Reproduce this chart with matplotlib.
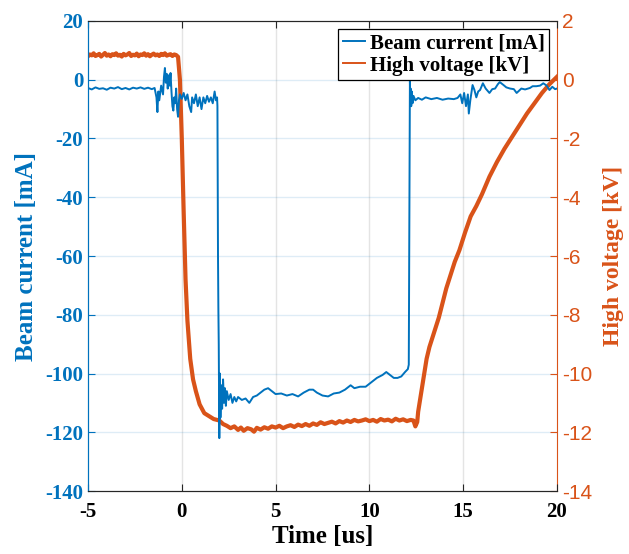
import matplotlib.pyplot as plt
from matplotlib.lines import Line2D
from matplotlib.ticker import FixedFormatter

plt.rcParams["axes.unicode_minus"] = False

# beam current trace (time in us, current in mA)
beam_t = [-5.0, -4.8, -4.6, -4.4, -4.2, -4.0, -3.8, -3.6, -3.4, -3.2, -3.0, -2.8,
          -2.6, -2.4, -2.2, -2.0, -1.8, -1.6, -1.45, -1.35, -1.3, -1.25, -1.2, -1.1,
          -1.0, -0.95, -0.9, -0.85, -0.8, -0.75, -0.7, -0.65, -0.6, -0.55, -0.5, -0.45,
          -0.4, -0.35, -0.3, -0.25, -0.2, -0.15, -0.1, 0.0, 0.1, 0.2, 0.3, 0.4, 0.5,
          0.55, 0.65, 0.75, 0.85, 0.95, 1.05, 1.15, 1.25, 1.35, 1.45, 1.55, 1.65, 1.75,
          1.82, 1.88, 1.9, 1.93, 1.95, 1.97, 2.0, 2.03, 2.06, 2.1, 2.15, 2.2, 2.25, 2.3,
          2.35, 2.4, 2.5, 2.6, 2.7, 2.8, 2.9, 3.0, 3.2, 3.4, 3.6, 3.8, 4.0, 4.2, 4.4,
          4.6, 4.8, 5.0, 5.3, 5.6, 5.9, 6.2, 6.5, 6.8, 7.0, 7.2, 7.5, 7.8, 8.1, 8.4,
          8.7, 9.0, 9.2, 9.5, 9.8, 10.1, 10.4, 10.7, 10.9, 11.1, 11.3, 11.5, 11.7, 11.9,
          12.05, 12.1, 12.13, 12.16, 12.18, 12.2, 12.23, 12.26, 12.3, 12.35, 12.45, 12.6,
          12.8, 13.0, 13.3, 13.6, 13.9, 14.2, 14.5, 14.7, 14.85, 14.95, 15.05, 15.15,
          15.25, 15.3, 15.38, 15.5, 15.6, 15.7, 15.8, 15.9, 16.05, 16.2, 16.4, 16.55,
          16.7, 16.85, 16.95, 17.15, 17.3, 17.5, 17.7, 17.85, 18.1, 18.3, 18.56, 18.7,
          18.9, 19.1, 19.27, 19.45, 19.6, 19.75, 19.9, 20.0]
beam_ma = [-2.8, -3.3, -2.6, -3.1, -2.9, -3.4, -2.7, -3.0, -2.5, -3.2, -2.8, -3.3,
           -2.7, -3.0, -2.6, -3.1, -2.7, -3.2, -2.8, -6.0, -11.0, -4.0, -7.0, -2.0,
           -5.0, 1.0, 4.0, -1.0, 2.0, -3.0, 1.5, -2.0, 2.3, -4.0, -9.0, -10.5,
           -6.0, -8.0, -3.0, -10.0, -12.6, -7.0, -5.0, -6.5, -4.5, -7.0, -5.0, -9.0, -11.0,
           -6.0, -8.0, -5.0, -9.0, -6.0, -10.0, -6.0, -8.0, -5.5, -7.5, -6.0, -8.0, -4.0,
           -7.0, -6.0, -9.0, -60.0, -78.0, -90.0, -122.0, -100.0, -115.0, -104.0, -112.0, -102.0, -110.0, -105.0,
           -111.0, -106.0, -109.0, -107.0, -110.0, -108.0, -109.5, -108.0, -109.0, -108.5, -110.0, -108.0, -107.5, -106.5, -105.5,
           -105.0, -106.0, -107.0, -106.8, -107.5, -107.0, -107.8, -106.5, -105.5, -105.5, -106.5, -107.5, -107.8, -106.8, -106.5,
           -105.5, -104.0, -105.0, -104.5, -104.5, -103.0, -101.5, -100.5, -99.5, -100.5, -101.5, -101.5, -101.0, -99.5,
           -98.5, -97.0, -50.0, -0.5, -8.0, -3.0, -9.0, -4.0, -8.0, -5.5, -7.0, -6.2,
           -6.8, -6.0, -6.6, -6.2, -6.8, -6.4, -6.6, -6.2, -5.0, -8.0, -4.5, -9.0,
           -5.0, -11.5, -7.0, -1.8, -3.5, -6.0, -4.0, -3.5, -1.2, -3.0, -4.5, -3.2,
           -3.0, -1.5, -0.8, -1.8, -2.6, -3.0, -3.2, -4.5, -3.0, -3.3, -2.8, -2.2,
           -2.2, -2.0, -1.2, -2.0, -3.5, -2.4, -3.2, -3.0]

# high voltage trace (time in us, voltage in kV)
hv_t = [-5.0, -4.9, -4.8, -4.7, -4.6, -4.5, -4.4, -4.3, -4.2, -4.1, -4.0, -3.9,
        -3.8, -3.7, -3.6, -3.5, -3.4, -3.3, -3.2, -3.1, -3.0, -2.9, -2.8, -2.7,
        -2.6, -2.5, -2.4, -2.3, -2.2, -2.1, -2.0, -1.9, -1.8, -1.7, -1.6, -1.5,
        -1.4, -1.3, -1.2, -1.1, -1.0, -0.9, -0.8, -0.7, -0.6, -0.5, -0.4, -0.3,
        -0.2, -0.1, 0.0, 0.1, 0.2, 0.3, 0.45, 0.6, 0.75, 0.95, 1.2, 1.45,
        1.7, 2.0, 2.2, 2.4, 2.6, 2.8, 3.0, 3.15, 3.3, 3.5, 3.7, 3.85, 4.0, 4.2,
        4.4, 4.6, 4.8, 5.0, 5.2, 5.4, 5.6, 5.8, 6.0, 6.2, 6.4, 6.6, 6.8, 7.0,
        7.2, 7.4, 7.6, 7.8, 8.0, 8.2, 8.4, 8.6, 8.8, 9.0, 9.2, 9.4, 9.6, 9.8,
        10.0, 10.2, 10.4, 10.6, 10.8, 11.0, 11.2, 11.4, 11.6, 11.8, 12.0, 12.2,
        12.35, 12.45, 12.55, 12.6, 12.75, 12.9, 13.05, 13.2, 13.35, 13.5, 13.7,
        13.9, 14.1, 14.3, 14.55, 14.8, 15.1, 15.4, 15.7, 16.0, 16.4, 16.8, 17.2,
        17.6, 18.0, 18.4, 18.8, 19.2, 19.6, 20.0]
hv_kv = [0.80, 0.86, 0.83, 0.9, 0.81, 0.84, 0.88, 0.79, 0.85, 0.91, 0.82, 0.86,
         0.8, 0.87, 0.84, 0.9, 0.82, 0.85, 0.79, 0.88, 0.83, 0.86, 0.91, 0.81,
         0.85, 0.83, 0.89, 0.8, 0.86, 0.84, 0.9, 0.82, 0.87, 0.8, 0.85, 0.89,
         0.83, 0.86, 0.81, 0.88, 0.84, 0.9, 0.82, 0.85, 0.87, 0.81, 0.86, 0.84,
         0.78, 0.0, -2.0, -4.5, -6.8, -8.2, -9.5, -10.2, -10.6, -11.05, -11.35, -11.45,
         -11.55, -11.6, -11.72, -11.78, -11.86, -11.8, -11.92, -11.84, -11.95, -11.86, -11.9, -11.98, -11.85, -11.91,
         -11.83, -11.88, -11.8, -11.84, -11.78, -11.86, -11.8, -11.76, -11.82, -11.74, -11.79, -11.72, -11.78, -11.7,
         -11.75, -11.66, -11.72, -11.68, -11.64, -11.7, -11.62, -11.67, -11.6, -11.65, -11.58, -11.63, -11.6, -11.56,
         -11.62, -11.58, -11.64, -11.55, -11.6, -11.57, -11.63, -11.54, -11.6, -11.56, -11.62, -11.58,
         -11.6, -11.8, -11.65, -11.3, -10.7, -10.1, -9.5, -9.1, -8.8, -8.5, -8.1,
         -7.6, -7.1, -6.7, -6.2, -5.8, -5.2, -4.65, -4.3, -3.9, -3.3, -2.8, -2.35,
         -1.95, -1.55, -1.15, -0.8, -0.45, -0.15, 0.1]

x_ticks = [-5, 0, 5, 10, 15, 20]
left_ticks = [-140, -120, -100, -80, -60, -40, -20, 0, 20]
right_ticks = [-14, -12, -10, -8, -6, -4, -2, 0, 2]

BLUE = (0.0, 0.447, 0.741)
ORANGE = (0.85, 0.325, 0.098)
DARK = (0.15, 0.15, 0.15)
SERIF = "Liberation Serif"
SANS = "Liberation Sans"

fig = plt.figure(figsize=(6.29, 5.54), dpi=100)
ax1 = fig.add_axes([0.1399, 0.1137, 0.7456, 0.8484])
ax2 = ax1.twinx()
# blue trace drawn over orange, like the original
ax1.set_zorder(ax2.get_zorder() + 1)
ax1.patch.set_visible(False)

ax2.plot(hv_t, hv_kv, color=ORANGE, lw=3.0)
ax1.plot(beam_t, beam_ma, color=BLUE, lw=1.4)

ax1.set_xlim(-5, 20)
ax1.set_ylim(-140, 20)
ax2.set_ylim(-14, 2)
ax1.set_xticks(x_ticks)
ax1.set_yticks(left_ticks)
ax2.set_yticks(right_ticks)
ax1.xaxis.set_major_formatter(FixedFormatter([str(v) for v in x_ticks]))
ax1.yaxis.set_major_formatter(FixedFormatter([str(v) for v in left_ticks]))
ax2.yaxis.set_major_formatter(FixedFormatter([str(v) for v in right_ticks]))

# grid: vertical grey, horizontal tinted with left axis colour
for x in x_ticks[1:-1]:
    ax2.axvline(x, color=DARK, alpha=0.12, lw=1.0, zorder=0)
for y in right_ticks[1:-1]:
    ax2.axhline(y, color=BLUE, alpha=0.13, lw=1.0, zorder=0)

ax1.tick_params(axis="x", direction="in", length=5, top=True, color=DARK,
                labelcolor="black", pad=8)
ax1.tick_params(axis="y", direction="in", length=5, colors=BLUE)
ax2.tick_params(axis="y", direction="in", length=5, colors=ORANGE)
for lab in ax1.get_xticklabels() + ax1.get_yticklabels():
    lab.set_fontfamily(SERIF)
    lab.set_fontweight("bold")
    lab.set_fontsize(15)
for lab in ax2.get_yticklabels():
    lab.set_fontfamily(SANS)
    lab.set_fontsize(15)

for ax in (ax1, ax2):
    ax.spines["top"].set_color(DARK)
    ax.spines["bottom"].set_color(DARK)
ax1.spines["left"].set_color(BLUE)
ax2.spines["left"].set_color(BLUE)
ax2.spines["right"].set_color(ORANGE)
ax1.spines["right"].set_visible(False)

ax1.set_xlabel("Time [us]", fontfamily=SERIF, fontweight="bold", fontsize=18,
               labelpad=2)
ax1.set_ylabel("Beam current [mA]", fontfamily=SERIF, fontweight="bold",
               fontsize=18, color=BLUE, labelpad=5)
ax2.set_ylabel("High voltage [kV]", fontfamily=SERIF, fontweight="bold",
               fontsize=17, color=ORANGE, labelpad=8)

handles = [Line2D([], [], color=BLUE, lw=1.4), Line2D([], [], color=ORANGE, lw=1.4)]
leg = ax1.legend(handles, ["Beam current [mA]", "High voltage [kV]"],
                 loc="upper right", fancybox=False, framealpha=1,
                 edgecolor="black", handlelength=1.1, handletextpad=0.2,
                 borderpad=0.2, labelspacing=0.1, borderaxespad=0.4,
                 prop={"family": SERIF, "weight": "bold", "size": 15})
leg.get_frame().set_linewidth(0.9)

fig.savefig("out.png", dpi=100)
